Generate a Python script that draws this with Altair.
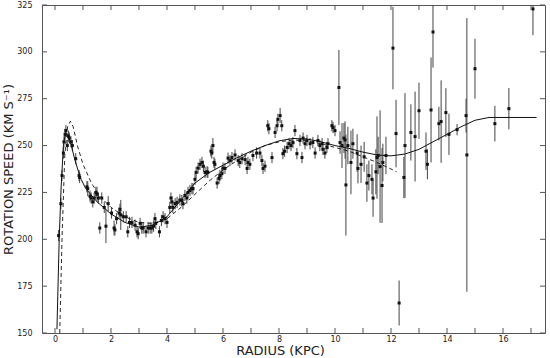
import altair as alt
import pandas as pd

# ---- observed points: radius (kpc), speed (km/s), error (km/s)
r_pts = [0.13,0.21,0.25,0.30,0.32,0.36,0.39,0.44,0.48,0.51,0.57,0.62,0.74,0.86,0.88,
         1.14,1.17,1.25,1.29,1.35,1.40,1.46,1.50,1.55,1.60,1.67,1.76,1.82,1.90,2.02,2.11,2.14,2.20,2.29,2.32,2.35,2.44,2.54,2.60,2.66,2.75,2.86,2.93,2.97,
         3.04,3.10,3.15,3.25,3.33,3.40,3.46,3.52,3.57,3.60,3.73,3.80,3.86,3.93,4.00,
         4.10,4.14,4.18,4.21,4.29,4.36,4.46,4.53,4.57,4.64,4.71,4.75,4.82,4.89,4.93,5.00,5.04,5.11,5.18,5.25,5.30,5.36,5.43,5.46,5.57,5.60,5.64,5.68,5.71,5.79,5.86,5.89,5.96,
         6.00,6.07,6.18,6.25,6.32,6.43,6.54,6.60,6.68,6.79,6.86,6.89,6.96,
         7.07,7.20,7.32,7.39,7.43,7.50,7.60,7.64,7.75,7.86,7.93,7.96,8.04,8.10,8.14,8.20,8.29,8.36,8.43,8.50,8.57,8.64,8.75,8.82,8.86,8.93,
         9.00,9.11,9.21,9.29,9.39,9.46,9.54,9.57,9.64,9.71,9.75,9.89,9.93,10.00,
         10.14,10.18,10.25,10.32,10.36,10.39,10.46,10.57,10.64,10.79,10.82,10.93,11.04,11.14,11.21,11.32,11.36,11.46,11.50,11.54,11.61,11.68,11.71,11.82,12.07,12.18,12.29,
         12.46,12.50,12.71,12.86,13.00,13.25,13.30,13.43,13.50,13.71,13.79,13.96,14.07,14.36,14.68,14.71,15.00,15.71,16.21,17.07]
v_pts = [202,219,234,246,252,256,258,250,255,254,252,250,243,234,233,
         228,227,223,222,220,222,225,224,222,206,222,217,207,219,214,206,205,211,214,216,213,212,212,204,209,209,207.5,204,203,
         208.5,206,206,204,206,206,206,207,211,208.5,204,210,212,211,209,
         217,222,220,217,219,219.7,221,220.7,219,223.4,222,225,226,227,227,232,235.7,238,240,241,239,235.7,236,235.7,247,246,250,241,240,230,232.5,234,235,
         238,237.8,243.3,242,243.6,245,242,241,243,242.5,237.8,241,240,
         244.7,246,246,242,237.8,239,260.6,259,243.6,257,260.6,264,266,260.6,245.7,247,249,251,250,251.6,258,245.7,252.7,243.6,254,251,
         252.7,251,251.6,246,252.7,250,251,248,246,249,251,260.6,259.6,258,
         281,251.6,250,254,253,229,250,241,251,246,237.8,240,244,230,234,232,222,236,243.6,244.7,238.8,228.7,241,244.7,302,256.4,166,
         233,250,257,254.8,268.6,247,240,269,310.6,261.7,262.8,267.6,256,258.5,266,245,291,261.7,269.7,322.9]
e_pts = [3,3,3,3,3,3,3,3,3,3,3,3,3,3,3,
         3,4,3,3,3,3,3,4,3,3,3,3,9,4,3,4,3,3,3,3,8,3,3,3,3,3,3,3,3,
         3,3,3,3,3,3,3,3,3,3,3,3,3,3,3,
         3,3,3,3,3,3,3,3,3,3,3,3,3,3,3,3,3,3,3,3,3,3,3,3,3,3,4,3,3,3,3,3,3,
         3,3,3,3,3,3,3,3,3,3,3,3,3,
         3,3,3,3,3,3,3,3,3,3,3,3,4,3,3,3,3,3,3,3,3,3,3,3,3,3,
         3,3,3,3,3,3,3,3,3,3,3,3,3,3,
         20,6,12,8,10,27,10,17,8,10,8,10,8,10,8,8,10,12,22,10,30,20,10,10,22,18,12,
         11,28,15,24,15,10,8,28,19,9,22,13,11,3,9,73,16,9.5,11,14]

# ---- model curves
solid_r = [0.07,0.15,0.22,0.30,0.38,0.45,0.55,0.70,0.90,1.10,1.50,2.0,2.5,3.0,3.5,4.0,4.5,5.0,5.5,6.0,6.5,7.0,7.5,8.0,8.5,9.0,9.5,10.0,10.5,11.0,11.5,12.0,12.5,13.0,13.5,14.0,14.5,15.0,15.5,16.0,17.2]
solid_v = [152,200,228,250,257,256,252,243,233,227,220,213.5,209,206.5,207.5,212,221,230,235.5,239.5,243.5,247,250,252.5,253.8,253.5,252,250,248.5,246.5,245,244.5,245.5,248,252,256,260,263.5,265,265,265]
dash_r = [0.17,0.25,0.35,0.45,0.55,0.65,0.80,1.0,1.3,1.6,2.0,2.5,3.0,3.5,4.0,4.5,5.0,5.5,6.0,6.5,7.0,7.5,8.0,8.5,9.0,9.5,10.0,10.5,11.0,11.5,12.0,12.2]
dash_v = [150,200,245,260,263,260,250,240,230,223,217,212,209,208.5,211,217,224,231,237,242,246.5,250,252,253,252.5,251,249,247,244,241,237.5,236]

# ---- axis ticks
x_labels = [0,2,4,6,8,10,12,14,16]
x_ticks = list(range(0,18))
y_ticks = [150,175,200,225,250,275,300,325]

W, H = 503, 328
xs = alt.Scale(domain=[-0.464, 17.5], nice=False, zero=False)
ys = alt.Scale(domain=[150, 325], nice=False, zero=False)

pts = pd.DataFrame({"r": r_pts, "v": v_pts, "e": e_pts})
pts["lo"] = pts["v"] - pts["e"]
pts["hi"] = pts["v"] + pts["e"]

xax = alt.Axis(values=x_labels, tickSize=0, domain=False, grid=False, labelFontSize=8,
               labelFont="DejaVu Sans", labelColor="#222", labelPadding=2,
               title="RADIUS  (KPC)", titleFont="DejaVu Sans", titleFontSize=13,
               titleFontWeight="normal", titleColor="#222", titleX=238, titleY=11,
               titleBaseline="top", titleAlign="center")
yax = alt.Axis(values=y_ticks, tickSize=0, domain=False, grid=False, labelFontSize=8,
               labelFont="DejaVu Sans", labelColor="#222", labelPadding=10,
               title="ROTATION  SPEED  (KM  S⁻¹)", titleFont="DejaVu Sans", titleFontSize=13,
               titleFontWeight="normal", titleColor="#222", titleAngle=-90,
               titleX=-34, titleY=164, titleBaseline="middle", titleAlign="center")

base = alt.Chart(pts)
err = base.mark_rule(color="#444", strokeWidth=1, clip=True).encode(
    x=alt.X("r:Q", scale=xs, axis=xax),
    y=alt.Y("lo:Q", scale=ys, axis=yax),
    y2="hi:Q")
dots = base.mark_point(shape="square", filled=True, size=9, color="#111", opacity=1, clip=True).encode(
    x=alt.X("r:Q", scale=xs), y=alt.Y("v:Q", scale=ys))

solid = alt.Chart(pd.DataFrame({"r": solid_r, "v": solid_v})).mark_line(
    color="#111", strokeWidth=1, clip=True).encode(
    x=alt.X("r:Q", scale=xs), y=alt.Y("v:Q", scale=ys))
dashed = alt.Chart(pd.DataFrame({"r": dash_r, "v": dash_v})).mark_line(
    color="#111", strokeWidth=0.9, strokeDash=[4, 3], clip=True).encode(
    x=alt.X("r:Q", scale=xs), y=alt.Y("v:Q", scale=ys))

xt = pd.DataFrame({"t": x_ticks})
yt = pd.DataFrame({"t": y_ticks})
tk = dict(color="#555", strokeWidth=1)
xb = alt.Chart(xt).mark_rule(**tk).encode(x=alt.X("t:Q", scale=xs), y=alt.value(H), y2=alt.value(H - 5))
xtop = alt.Chart(xt).mark_rule(**tk).encode(x=alt.X("t:Q", scale=xs), y=alt.value(0), y2=alt.value(5))
yl = alt.Chart(yt).mark_rule(**tk).encode(y=alt.Y("t:Q", scale=ys), x=alt.value(0), x2=alt.value(5))
yr = alt.Chart(yt).mark_rule(**tk).encode(y=alt.Y("t:Q", scale=ys), x=alt.value(W), x2=alt.value(W - 5))

chart = alt.layer(err, dots, solid, dashed, xb, xtop, yl, yr).properties(
    width=W, height=H,
    autosize=alt.AutoSizeParams(type="none"),
    padding={"left": 42, "top": 5, "right": 5, "bottom": 25},
    background="white",
).configure_view(stroke="#555", strokeWidth=1)

chart.save("out.html", embed_options={"renderer": "svg", "actions": False})
